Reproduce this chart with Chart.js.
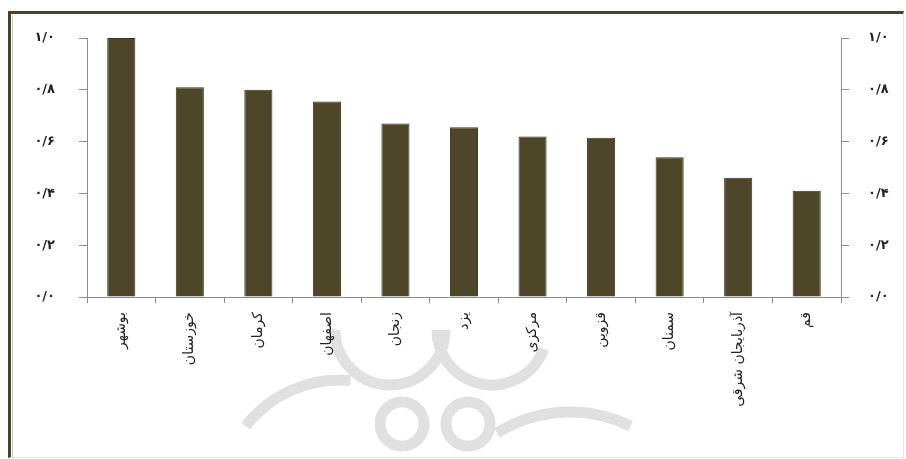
<!DOCTYPE html>
<html>
<head>
<meta charset="utf-8">
<script src="https://cdn.jsdelivr.net/npm/chart.js@4/dist/chart.umd.min.js"></script>
<style>
    html, body { margin: 0; padding: 0; background: #fff; }
    #wrap { position: relative; width: 906px; height: 459px; overflow: hidden; }
    #frame {
        position: absolute; left: 8px; top: 11px; right: 2px; bottom: 1px;
        border-top: 3px solid #4a4128; border-left: 3px solid #4a4128;
        border-right: 1px solid #e4e4e4; border-bottom: 1px solid #e4e4e4;
        pointer-events: none;
    }
    #frame::after {
        content: ""; position: absolute; left: 1px; top: 1px; bottom: 0; width: 1px; background: #c8c8c8;
    }
    canvas { position: absolute; left: 0; top: 0; }
</style>
</head>
<body>
<div id="wrap">
    <canvas id="chart" width="906" height="459"></canvas>
    <div id="frame"></div>
</div>
<script>
const provinces = ["بوشهر", "خوزستان", "کرمان", "اصفهان", "زنجان", "یزد", "مرکزی", "قزوین", "سمنان", "آذربایجان شرقی", "قم"];
const values = [1.0, 0.81, 0.80, 0.755, 0.67, 0.655, 0.62, 0.615, 0.54, 0.46, 0.41];
const yTicks = [0, 0.2, 0.4, 0.6, 0.8, 1.0];
const yTickLabels = ["۰/۰", "۰/۲", "۰/۴", "۰/۶", "۰/۸", "۱/۰"];

const axisGray = "#8c8c8c";
const tickFont = { family: "DejaVu Sans", size: 13, weight: "bold" };

function tickLabel(v) {
    const i = yTicks.findIndex(t => Math.abs(t - v) < 1e-6);
    return i >= 0 ? yTickLabels[i] : "";
}

// faint logo watermark behind the axis labels (decoration only)
const watermark = {
    id: "watermark",
    beforeDraw(chart) {
        const c = chart.ctx;
        c.save();
        c.strokeStyle = "#e0e0e0";
        c.lineWidth = 11;
        const arc = (x, y, r, a0, a1) => {
            c.beginPath();
            c.arc(x, y, r, a0 * Math.PI / 180, a1 * Math.PI / 180);
            c.stroke();
        };
        arc(390, 330, 55, 0, 180);
        arc(492, 330, 55, 20, 180);
        arc(402, 424, 22, 0, 360);
        arc(468, 424, 22, 0, 360);
        arc(340, 500, 120, -142, -85);
        arc(570, 550, 138, -122, -64);
        c.restore();
    }
};

const yAxisBase = {
    min: 0,
    max: 1,
    afterBuildTicks: s => { s.ticks = yTicks.map(v => ({ value: v })); },
    grid: { drawOnChartArea: false, color: axisGray, tickLength: 8 },
    border: { color: axisGray, width: 1 },
    ticks: { color: "#222", font: tickFont, callback: tickLabel }
};

const ctx = document.getElementById("chart").getContext("2d");
new Chart(ctx, {
    type: "bar",
    data: {
        labels: provinces,
        datasets: [{
            data: values,
            backgroundColor: "#4e4628",
            borderColor: "#3b341f",
            borderWidth: 1,
            barPercentage: 0.41,
            categoryPercentage: 1.0
        }]
    },
    options: {
        responsive: false,
        animation: false,
        layout: { padding: { top: 38, left: 0, right: 0, bottom: 0 } },
        plugins: { legend: { display: false }, tooltip: { enabled: false } },
        scales: {
            x: {
                grid: { drawOnChartArea: false, color: axisGray, tickLength: 6, offset: true },
                border: { color: axisGray, width: 1 },
                ticks: {
                    color: "#222",
                    font: { family: "DejaVu Sans", size: 14 },
                    minRotation: 90,
                    maxRotation: 90,
                    padding: 9,
                    autoSkip: false
                },
                afterFit: s => { s.height = 162; }
            },
            y: Object.assign({}, yAxisBase, {
                position: "left",
                ticks: Object.assign({}, yAxisBase.ticks, { padding: 24 }),
                afterFit: s => { s.width = 87; }
            }),
            y2: Object.assign({}, yAxisBase, {
                position: "right",
                ticks: Object.assign({}, yAxisBase.ticks, { padding: 19 }),
                afterFit: s => { s.width = 65; }
            })
        }
    },
    plugins: [watermark]
});
</script>
</body>
</html>
